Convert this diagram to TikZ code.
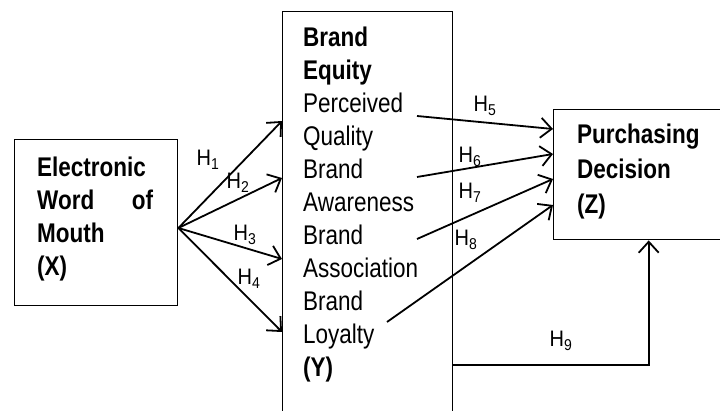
\documentclass[tikz,border=0pt]{standalone}
\usepackage{fontspec}
\setmainfont{Liberation Sans}
\usetikzlibrary{arrows.meta}
\newcommand\tl[1]{\scalebox{1}[1.2]{#1}}
\newcommand\hl[1]{\scalebox{1}[1.12]{H\textsubscript{#1}}}
\begin{document}
\begin{tikzpicture}[x=1pt,y=-1pt,
  box/.style={draw, line width=1.4pt, rectangle, inner sep=0pt},
  txt/.style={inner sep=0pt, align=left, font=\fontsize{22.5}{33}\selectfont},
  hlab/.style={inner sep=0pt, font=\fontsize{20}{24}\selectfont},
  arr/.style={line width=1.8pt, -{Straight Barb[length=11pt,width=20pt,line width=1.8pt]}},
  ln/.style={line width=1.8pt}]
\clip (0,0) rectangle (720,411);
\fill[white] (0,0) rectangle (720,411);
% boxes
\node[box, anchor=north west, minimum width=163pt, minimum height=166pt] (X) at (14,139) {};
\node[box, anchor=north west, minimum width=170pt, minimum height=440pt] (Y) at (282,11) {};
\node[box, anchor=north west, minimum width=190pt, minimum height=130pt] (Z) at (553,109) {};
% texts
\node[txt, anchor=north west, text width=116pt] (Xt) at (37,157) {\tl{\bfseries Electronic}\\ \tl{\bfseries Word}\hfill\tl{\bfseries of}\\ \tl{\bfseries Mouth}\\ \tl{\bfseries (X)}};
\node[txt, anchor=north west] (Yt) at (303,27) {\tl{\bfseries Brand}\\ \tl{\bfseries Equity}\\ \tl{Perceived}\\ \tl{Quality}\\ \tl{Brand}\\ \tl{Awareness}\\ \tl{Brand}\\ \tl{Association}\\ \tl{Brand}\\ \tl{Loyalty}\\ \tl{\bfseries (Y)}};
\node[txt, anchor=north west, font=\fontsize{22.5}{35}\selectfont] (Zt) at (577,124) {\tl{\bfseries Purchasing}\\ \tl{\bfseries Decision}\\ \tl{\bfseries (Z)}};
% X -> Y
\coordinate (xo) at (X.east |- {(0,228)});
\draw[arr] (xo) -- (Y.west |- {(0,121)});
\draw[arr] (xo) -- (Y.west |- {(0,178)});
\draw[arr] (xo) -- (Y.west |- {(0,259)});
\draw[arr] (xo) -- (Y.west |- {(0,332)});
% Y -> Z
\coordinate (s5) at (417,116);
\coordinate (s6) at (417,177);
\coordinate (s7) at (417,239);
\coordinate (s8) at (387,322);
\draw[arr] (s5) -- (Z.west |- {(0,129)});
\draw[arr] (s6) -- (Z.west |- {(0,154)});
\draw[arr] (s7) -- (Z.west |- {(0,179)});
\draw[arr] (s8) -- (Z.west |- {(0,205)});
\coordinate (h9a) at (Y.east |- {(0,365)});
\draw[arr] (h9a) -| (Z.south);
% labels
\node[hlab] (H1) at (208,160) {\hl{1}};
\node[hlab] (H2) at (238,183) {\hl{2}};
\node[hlab] (H3) at (245,235) {\hl{3}};
\node[hlab] (H4) at (249,279) {\hl{4}};
\node[hlab] (H5) at (485,106) {\hl{5}};
\node[hlab] (H6) at (470,157) {\hl{6}};
\node[hlab] (H7) at (470,193) {\hl{7}};
\node[hlab] (H8) at (466,240) {\hl{8}};
\node[hlab] (H9) at (561,341) {\hl{9}};
\end{tikzpicture}
\end{document}
